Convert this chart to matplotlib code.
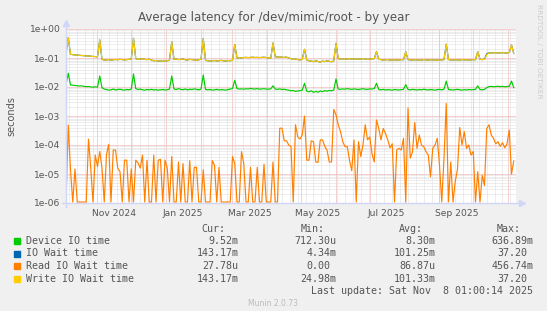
import datetime as dt
import matplotlib
matplotlib.use('Agg')
import matplotlib.pyplot as plt
import matplotlib.dates as mdates
from matplotlib.patches import Rectangle
import numpy as np

# one sample every 2 days, ending at the last update
last_update = dt.datetime(2025, 11, 8, 1, 0, 14)
span_days = 400
step_days = 2

device_io = [
    0.012, 0.03,
    0.0118, 0.0115, 0.0112, 0.011, 0.0108, 0.011, 0.0105, 0.0103, 0.0104, 0.0101, 0.0098, 0.0102, 0.0099,
    0.024,
    0.0095, 0.0085, 0.0082, 0.0078, 0.008, 0.0085, 0.0079, 0.0082, 0.0084, 0.008, 0.0078, 0.0082, 0.008, 0.0085,
    0.028,
    0.0088, 0.0082, 0.0085, 0.008, 0.0078, 0.0082, 0.008, 0.0083, 0.0079, 0.0081, 0.0078, 0.008, 0.0082, 0.0079, 0.008, 0.0085,
    0.024,
    0.0085, 0.0082, 0.0088, 0.0083, 0.0081, 0.0085, 0.008, 0.0084, 0.0082, 0.0086, 0.0083, 0.008, 0.0085,
    0.026,
    0.0083, 0.008, 0.0082, 0.0078, 0.008, 0.0083, 0.0079, 0.0081, 0.008, 0.0078, 0.0082, 0.0085, 0.0088,
    0.017,
    0.0088, 0.0085, 0.0086, 0.0084, 0.0087, 0.0085, 0.009, 0.0086, 0.0085, 0.0088, 0.0084, 0.0086, 0.0087, 0.0085, 0.0084, 0.0086,
    0.011,
    0.0085, 0.0083, 0.0086, 0.0082, 0.0084, 0.008, 0.0078, 0.0074, 0.0076, 0.007, 0.0073, 0.0075, 0.0078,
    0.0134,
    0.0072, 0.0068, 0.0074, 0.0065, 0.0071, 0.0066, 0.0073, 0.0069, 0.0075, 0.0072, 0.0076, 0.0074, 0.0078,
    0.019,
    0.0085, 0.0083, 0.0086, 0.0084, 0.0088, 0.0085, 0.0083, 0.0086, 0.0084, 0.0082, 0.0085, 0.0087, 0.0084, 0.0083, 0.0086, 0.0085, 0.0088,
    0.0134,
    0.0082, 0.008, 0.0083, 0.0079, 0.0081, 0.008, 0.0078, 0.0082, 0.008, 0.0079, 0.0081, 0.0083,
    0.012,
    0.0082, 0.008, 0.0083, 0.0081, 0.0079, 0.0082, 0.008, 0.0084, 0.0081, 0.0079, 0.0082, 0.008, 0.0078, 0.0081, 0.0083, 0.008, 0.0084,
    0.016,
    0.0082, 0.008, 0.0079, 0.0081, 0.0083, 0.008, 0.0078, 0.0081, 0.0079, 0.0082, 0.008, 0.0081, 0.0083,
    0.011,
    0.0082, 0.008, 0.0083,
    0.0095, 0.0103, 0.0105, 0.0102, 0.0104, 0.0106, 0.0103, 0.0105, 0.0102, 0.0104, 0.0106, 0.016, 0.0095,
]

io_wait = [
    0.14, 0.5,
    0.135, 0.13, 0.128, 0.125, 0.125, 0.122, 0.12, 0.118, 0.118, 0.115, 0.113, 0.112, 0.11,
    0.42,
    0.09, 0.085, 0.086, 0.088, 0.084, 0.087, 0.089, 0.087, 0.09, 0.088, 0.086, 0.088, 0.09, 0.092,
    0.48,
    0.095, 0.09, 0.092, 0.094, 0.09, 0.088, 0.091, 0.085, 0.08, 0.082, 0.078, 0.08, 0.077, 0.079, 0.08, 0.085,
    0.36,
    0.09, 0.092, 0.088, 0.09, 0.093, 0.087, 0.085, 0.09, 0.088, 0.086, 0.084, 0.087, 0.09,
    0.47,
    0.085, 0.08, 0.078, 0.08, 0.082, 0.079, 0.08, 0.083, 0.08, 0.078, 0.082, 0.08, 0.085,
    0.29,
    0.1, 0.102, 0.1, 0.104, 0.105, 0.103, 0.105, 0.106, 0.104, 0.105, 0.103, 0.105, 0.106, 0.104, 0.1, 0.098,
    0.33,
    0.11, 0.108, 0.11, 0.106, 0.105, 0.107, 0.1, 0.095, 0.09, 0.092, 0.088, 0.086, 0.09,
    0.2,
    0.085, 0.08, 0.078, 0.075, 0.08, 0.076, 0.072, 0.078, 0.075, 0.08, 0.077, 0.074, 0.08,
    0.32,
    0.095, 0.092, 0.094, 0.09, 0.093, 0.095, 0.092, 0.094, 0.09, 0.093, 0.092, 0.095, 0.093, 0.09, 0.092, 0.094, 0.095,
    0.165,
    0.09, 0.088, 0.085, 0.087, 0.088, 0.085, 0.084, 0.087, 0.085, 0.086, 0.088, 0.087,
    0.165,
    0.088, 0.086, 0.085, 0.087, 0.086, 0.084, 0.085, 0.088, 0.086, 0.085, 0.087, 0.086, 0.084, 0.085, 0.087, 0.086, 0.088,
    0.3,
    0.088, 0.086, 0.085, 0.087, 0.086, 0.085, 0.088, 0.086, 0.087, 0.085, 0.086, 0.088, 0.087,
    0.165,
    0.09, 0.088, 0.092,
    0.14, 0.152, 0.148, 0.15, 0.152, 0.148, 0.15, 0.152, 0.15, 0.148, 0.155, 0.28, 0.143,
]

read_wait = [
    0, 4.9e-4, 1.4e-5, 0, 1.5e-5, 0, 0, 0, 0, 0,
    1.6e-4, 1.6e-5, 0, 4.5e-5, 1.8e-5, 6e-5, 1.6e-5, 0, 4.7e-5, 1.06e-4,
    0, 6.7e-5, 6.7e-5, 1.6e-5, 1.2e-5, 0, 3e-5, 3e-5, 0, 1.5e-5,
    0, 3e-5, 2.4e-5, 1.6e-5, 4.5e-5, 0, 3e-5, 0, 0, 4.5e-5,
    0, 3e-5, 3.2e-5, 0, 3e-5, 1.6e-5, 0, 4e-5, 0, 0,
    2.6e-5, 0, 2.3e-5, 0, 0, 2.9e-5, 0, 1.7e-5, 1.7e-5, 0,
    0, 1.4e-5, 0, 0, 0, 2.9e-5, 2e-5, 0, 1.7e-5, 0,
    0, 0, 0, 0, 4e-5, 2.3e-5, 0, 0, 5.9e-5, 2.3e-5,
    0, 0, 1.7e-5, 0, 0, 1.7e-5, 0, 0, 2.2e-5, 0,
    0, 0, 2.6e-5, 0, 0,
    3.8e-4, 3.8e-4, 1.4e-4, 1.4e-4, 1e-4, 8.8e-5, 0, 5e-4, 1.9e-4, 1.6e-4,
    2.2e-4, 1e-3, 3e-5, 3e-5, 1.4e-4, 1.3e-4, 2.6e-5, 2.5e-5, 1.5e-4, 1.5e-4,
    9e-5, 6.7e-5, 2.6e-5, 2.6e-5, 1.7e-3, 1.1e-3, 5e-4, 2.9e-4, 1.3e-4, 8.8e-5,
    8.8e-5, 3e-5, 1.3e-5, 1.5e-4, 0, 1.3e-4, 4e-5, 1e-4, 5e-4, 1.5e-4,
    1.9e-4, 5e-5, 2.6e-5, 7.3e-4, 3.7e-4, 1.5e-4, 3.7e-4, 2.5e-4, 1.5e-4, 8e-5,
    1.1e-4, 0, 6.7e-5, 7.7e-5, 6.7e-5, 1.7e-4, 0, 1.9e-3, 3.5e-5, 5.9e-5,
    6e-4, 7.7e-5, 2.2e-4, 1e-4, 8.8e-5, 5.9e-5, 4.5e-5, 8e-6, 7.7e-5, 1e-4,
    1.7e-4, 2e-5, 0, 3.5e-5, 2.7e-3, 0, 2.6e-5, 0, 5.5e-6, 1.5e-5,
    4e-4, 1e-4, 2.9e-4, 7.7e-5, 1e-4, 4.5e-5, 6e-5, 0, 1.2e-5, 0,
    9e-6, 4e-6, 3.7e-4, 5e-4, 2.2e-4, 1.7e-4, 1.1e-4, 1.3e-4, 9e-5, 1.2e-4,
    8e-5, 1.1e-4, 3.3e-4, 1e-5, 2.8e-5,
]

write_wait = [
    0.14, 0.5,
    0.135, 0.13, 0.128, 0.125, 0.125, 0.122, 0.12, 0.118, 0.118, 0.115, 0.113, 0.112, 0.11,
    0.42,
    0.09, 0.085, 0.086, 0.088, 0.084, 0.087, 0.089, 0.087, 0.09, 0.088, 0.086, 0.088, 0.09, 0.092,
    0.48,
    0.095, 0.09, 0.092, 0.094, 0.09, 0.088, 0.091, 0.085, 0.08, 0.082, 0.078, 0.08, 0.077, 0.079, 0.08, 0.085,
    0.36,
    0.09, 0.092, 0.088, 0.09, 0.093, 0.087, 0.085, 0.09, 0.088, 0.086, 0.084, 0.087, 0.09,
    0.47,
    0.085, 0.08, 0.078, 0.08, 0.082, 0.079, 0.08, 0.083, 0.08, 0.078, 0.082, 0.08, 0.085,
    0.29,
    0.1, 0.102, 0.1, 0.104, 0.105, 0.103, 0.105, 0.106, 0.104, 0.105, 0.103, 0.105, 0.106, 0.104, 0.1, 0.098,
    0.33,
    0.11, 0.108, 0.11, 0.106, 0.105, 0.107, 0.1, 0.095, 0.09, 0.092, 0.088, 0.086, 0.09,
    0.2,
    0.085, 0.08, 0.078, 0.075, 0.08, 0.076, 0.072, 0.078, 0.075, 0.08, 0.077, 0.074, 0.08,
    0.32,
    0.095, 0.092, 0.094, 0.09, 0.093, 0.095, 0.092, 0.094, 0.09, 0.093, 0.092, 0.095, 0.093, 0.09, 0.092, 0.094, 0.095,
    0.165,
    0.09, 0.088, 0.085, 0.087, 0.088, 0.085, 0.084, 0.087, 0.085, 0.086, 0.088, 0.087,
    0.165,
    0.088, 0.086, 0.085, 0.087, 0.086, 0.084, 0.085, 0.088, 0.086, 0.085, 0.087, 0.086, 0.084, 0.085, 0.087, 0.086, 0.088,
    0.3,
    0.088, 0.086, 0.085, 0.087, 0.086, 0.085, 0.088, 0.086, 0.087, 0.085, 0.086, 0.088, 0.087,
    0.165,
    0.09, 0.088, 0.09,
    0.13, 0.15, 0.148, 0.15, 0.152, 0.148, 0.15, 0.152, 0.15, 0.148, 0.155, 0.28, 0.143,
]

series_names = ['Device IO time', 'IO Wait time', 'Read IO Wait time', 'Write IO Wait time']
series_colors = ['#00CC00', '#0066B3', '#FF8000', '#FFCC00']
cur_vals = ['9.52m', '143.17m', '27.78u', '143.17m']
min_vals = ['712.30u', '4.34m', '0.00 ', '24.98m']
avg_vals = ['8.30m', '101.25m', '86.87u', '101.33m']
max_vals = ['636.89m', '37.20 ', '456.74m', '37.20 ']

y_ticks = [1e-6, 1e-5, 1e-4, 1e-3, 1e-2, 1e-1, 1e0]
y_tick_labels = ['1e-06', '1e-05', '1e-04', '1e-03', '1e-02', '1e-01', '1e+00']
x_label_months = ['Nov 2024', 'Jan 2025', 'Mar 2025', 'May 2025', 'Jul 2025', 'Sep 2025']

W, H = 547, 311
FONT = '#555555'

fig = plt.figure(figsize=(W / 100, H / 100), dpi=100, facecolor='#F0F0F0')
left, right, top, bottom = 66, 516, 29, 203
ax = fig.add_axes([left / W, 1 - bottom / H, (right - left) / W, (bottom - top) / H])
ax.set_facecolor('white')
for s in ax.spines.values():
    s.set_visible(False)

start = last_update - dt.timedelta(days=span_days)
xs = mdates.date2num([start + dt.timedelta(days=step_days * i) for i in range(len(device_io))])
ax.set_xlim(mdates.date2num(start), mdates.date2num(last_update))
ax.set_yscale('log')
ax.set_ylim(1e-6, 1)

# grid: weekly / monthly verticals, log minor / decade horizontals
grid_kw = dict(lw=0.72, linestyle=(0, (1, 1)), zorder=0.5)
d = dt.datetime(start.year, start.month, start.day)
while d < last_update:
    if d.weekday() == 0:
        ax.axvline(mdates.date2num(d), color='#DDDDDD', **grid_kw)
    d += dt.timedelta(days=1)
m = dt.datetime(start.year, start.month, 1)
while m < last_update:
    if m > start:
        ax.axvline(mdates.date2num(m), color='#F2A0A0', **grid_kw)
    m = dt.datetime(m.year + (m.month == 12), m.month % 12 + 1, 1)
for k in range(-6, 0):
    for mult in range(2, 10):
        ax.axhline(mult * 10.0 ** k, color='#DDDDDD', **grid_kw)
for yt in y_ticks:
    ax.axhline(yt, color='#F2A0A0', **grid_kw)

floor = 1.08e-6
for vals, col in zip([device_io, io_wait, read_wait, write_wait], series_colors):
    ax.plot(xs, np.clip(np.array(vals, dtype=float), floor, None), color=col, lw=0.85, zorder=2)

ax.set_yticks(y_ticks)
ax.set_yticklabels(y_tick_labels)
ax.minorticks_off()
mid_months = []
for lab in x_label_months:
    mm = dt.datetime.strptime(lab, '%b %Y')
    mid_months.append(mdates.date2num(mm + dt.timedelta(days=15)))
ax.set_xticks(mid_months)
ax.set_xticklabels(x_label_months)
ax.tick_params(length=0, labelsize=6.6, colors=FONT, pad=4)

# axes with arrows
axis_col = '#CFD6F8'
ax.plot([-4 / (right - left), 1 + 4 / (right - left)], [0, 0], color=axis_col, lw=1,
        transform=ax.transAxes, clip_on=False, zorder=3)
ax.plot([0, 0], [-4 / (bottom - top), 1 + 4 / (bottom - top)], color=axis_col, lw=1,
        transform=ax.transAxes, clip_on=False, zorder=3)
ax.plot([1 + 6 / (right - left)], [0], marker='>', ms=4, color=axis_col, mec=axis_col,
        transform=ax.transAxes, clip_on=False, zorder=3)
ax.plot([0], [1 + 6 / (bottom - top)], marker='^', ms=4, color=axis_col, mec=axis_col,
        transform=ax.transAxes, clip_on=False, zorder=3)

fig.text(273.5 / W, 1 - 18 / H, 'Average latency for /dev/mimic/root - by year',
         ha='center', va='center', fontsize=8.6, color=FONT)
fig.text(11 / W, 1 - 116 / H, 'seconds', rotation=90, ha='center', va='center',
         fontsize=7, color=FONT)
fig.text(539 / W, 1 - 4 / H, 'RRDTOOL / TOBI OETIKER', rotation=270, ha='center', va='top',
         fontsize=5.3, color='#CCCCCC')

# legend block
mono = dict(family='DejaVu Sans Mono', fontsize=7.2, color=FONT, va='center')
head_y = 228.5
fig.text(225 / W, 1 - head_y / H, 'Cur:', ha='right', **mono)
fig.text(324.5 / W, 1 - head_y / H, 'Min:', ha='right', **mono)
fig.text(423 / W, 1 - head_y / H, 'Avg:', ha='right', **mono)
fig.text(520.6 / W, 1 - head_y / H, 'Max:', ha='right', **mono)
row_y = [241, 253.5, 266, 278.5]
for name, col, c, mn, a, mx, ry in zip(series_names, series_colors, cur_vals, min_vals,
                                       avg_vals, max_vals, row_y):
    fig.patches.append(Rectangle((14 / W, 1 - (ry + 3) / H), 6 / W, 6 / H,
                                 transform=fig.transFigure, color=col, figure=fig))
    fig.text(26 / W, 1 - ry / H, name, ha='left', **mono)
    for txt, xr in zip([c, mn, a, mx], [238.3, 336.7, 435.4, 533.1]):
        shift = 6 if txt.endswith(' ') else 0
        fig.text((xr - shift) / W, 1 - ry / H, txt.strip(), ha='right', **mono)
fig.text(533.1 / W, 1 - 291 / H, 'Last update: Sat Nov  8 01:00:14 2025', ha='right', **mono)
fig.text(273.5 / W, 1 - 303.5 / H, 'Munin 2.0.73', ha='center', va='center',
         fontsize=5.5, color='#BBBBBB')

fig.savefig('out.png', dpi=100, facecolor=fig.get_facecolor())
